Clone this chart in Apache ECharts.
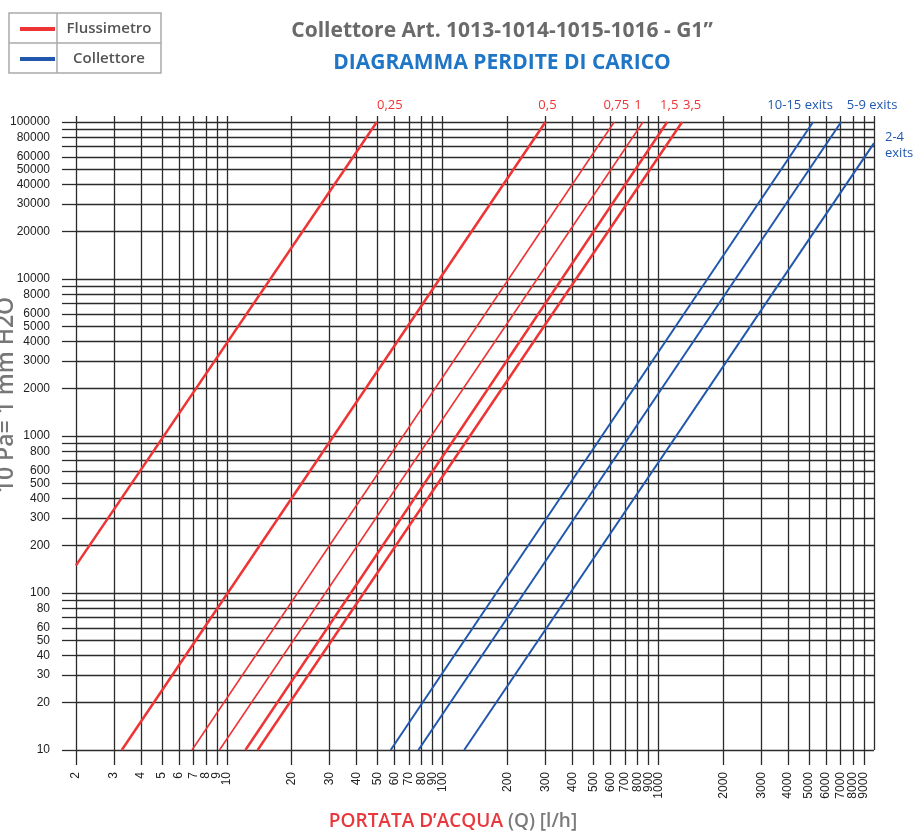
<!DOCTYPE html>
<html>
<head>
<meta charset="utf-8">
<script src="https://cdn.jsdelivr.net/npm/echarts@6/dist/echarts.min.js"></script>
<style>html,body{margin:0;padding:0;background:#fff}#c{width:913px;height:832px}</style>
</head>
<body>
<div id="c"></div>
<script>
// ---- Data ----
const xTickValues = [2,3,4,5,6,7,8,9,10,20,30,40,50,60,70,80,90,100,200,300,400,500,600,700,800,900,1000,2000,3000,4000,5000,6000,7000,8000,9000,10000];
const xLabelValues = [2,3,4,5,6,7,8,9,10,20,30,40,50,60,70,80,90,100,200,300,400,500,600,700,800,900,1000,2000,3000,4000,5000,6000,7000,8000,9000];
const yTickValues = [10,20,30,40,50,60,70,80,90,100,200,300,400,500,600,700,800,900,1000,2000,3000,4000,5000,6000,7000,8000,9000,10000,20000,30000,40000,50000,60000,70000,80000,90000,100000];
const yLabelValues = [10,20,30,40,50,60,80,100,200,300,400,500,600,800,1000,2000,3000,4000,5000,6000,8000,10000,20000,30000,40000,50000,60000,80000,100000];

// Flussimetro lines: [Q l/h, Δp (10 Pa)] start and end
const fluss025 = [[2, 150], [49.6, 100000]];
const fluss05  = [[3.26, 10], [300, 100000]];
const fluss075 = [[6.9, 10], [625, 100000]];
const fluss1   = [[9.25, 10], [850, 100000]];
const fluss15  = [[12.2, 10], [1100, 100000]];
const fluss35  = [[13.9, 10], [1290, 100000]];
const flussLabels = ['0,25', '0,5', '0,75', '1', '1,5', '3,5'];

// Collettore lines
const coll1015 = [[57.5, 10], [5220, 100000]];
const coll59   = [[77.3, 10], [7040, 100000]];
const coll24   = [[126, 10], [10000, 73400]];
const collLabels = ['10-15 exits', '5-9 exits', '2-4\nexits'];

// ---- Styles ----
const RED = '#ee3434';
const BLUE = '#2158ad';
const GRID = '#2b2b2b';
const FONT_UI = '"Open Sans", "Noto Sans", sans-serif';
const FONT_AX = '"Liberation Sans", Arial, sans-serif';
const X_MAX = 10000;

function mkSeries(name, data, label, color, width, labelOpt) {
  const last = data.length - 1;
  return {
    type: 'line', name: name, data: data,
    xAxisIndex: 0, yAxisIndex: 0,
    clip: false, animation: false, silent: true,
    symbol: 'circle', symbolSize: 0, showSymbol: true,
    lineStyle: { color: color, width: width },
    itemStyle: { color: color },
    label: Object.assign({
      show: true, color: color, fontSize: 13, fontFamily: FONT_UI,
      lineHeight: 16,
      formatter: p => p.dataIndex === last ? label : ''
    }, labelOpt)
  };
}

const series = [
  mkSeries('Flussimetro', fluss025, flussLabels[0], RED, 2.5, { position: 'top', offset: [13, -4] }),
  mkSeries('Flussimetro', fluss05,  flussLabels[1], RED, 2.5, { position: 'top', offset: [2, -4] }),
  mkSeries('Flussimetro', fluss075, flussLabels[2], RED, 1.6, { position: 'top', offset: [2, -4] }),
  mkSeries('Flussimetro', fluss1,   flussLabels[3], RED, 1.6, { position: 'top', offset: [-5, -4] }),
  mkSeries('Flussimetro', fluss15,  flussLabels[4], RED, 2.5, { position: 'top', offset: [2, -4] }),
  mkSeries('Flussimetro', fluss35,  flussLabels[5], RED, 2.5, { position: 'top', offset: [10, -4] }),
  mkSeries('Collettore', coll1015, collLabels[0], BLUE, 2, { position: 'top', offset: [-13, -4] }),
  mkSeries('Collettore', coll59,   collLabels[1], BLUE, 2, { position: 'top', offset: [31, -4] }),
  mkSeries('Collettore', coll24,   collLabels[2], BLUE, 2, { position: 'right', offset: [6, 2], align: 'left' })
];

const chart = echarts.init(document.getElementById('c'), null, { renderer: 'canvas' });
chart.setOption({
  animation: false,
  backgroundColor: '#ffffff',
  title: {
    text: 'Collettore Art. 1013-1014-1015-1016 - G1\u201D',
    subtext: 'DIAGRAMMA PERDITE DI CARICO',
    left: 497, textAlign: 'center', top: 14, itemGap: 8,
    textStyle: { fontFamily: FONT_UI, fontSize: 21, fontWeight: 'bold', color: '#6a6a6a', lineHeight: 24 },
    subtextStyle: { fontFamily: FONT_UI, fontSize: 21, fontWeight: 'bold', color: '#1f76c6', lineHeight: 24 }
  },
  legend: {
    orient: 'vertical', left: 15, top: 16,
    itemWidth: 35, itemHeight: 4, itemGap: 14, icon: 'rect',
    data: ['Flussimetro', 'Collettore'],
    formatter: n => '{t|' + n + '}',
    textStyle: {
      lineHeight: 16,
      rich: { t: { width: 98, align: 'center', fontSize: 15, fontWeight: 600, color: '#555', fontFamily: FONT_UI, lineHeight: 16 } }
    }
  },
  graphic: [
    { type: 'rect', shape: { x: 9, y: 13, width: 152, height: 60 }, style: { fill: 'none', stroke: '#aaaaaa', lineWidth: 1.5 }, silent: true },
    { type: 'line', shape: { x1: 9, y1: 43, x2: 161, y2: 43 }, style: { stroke: '#aaaaaa', lineWidth: 1.5 }, silent: true },
    { type: 'line', shape: { x1: 57, y1: 13, x2: 57, y2: 73 }, style: { stroke: '#aaaaaa', lineWidth: 1.5 }, silent: true }
  ],
  grid: { left: 76, right: 39, top: 122, bottom: 82, containLabel: false, outerBoundsMode: 'none' },
  xAxis: [{
    type: 'log', logBase: 10, min: 2, max: X_MAX, position: 'bottom',
    name: '{r|PORTATA D\u2019ACQUA}{g| (Q) [l/h]}',
    nameLocation: 'middle', nameGap: 62, nameMoveOverlap: false,
    nameTextStyle: {
      padding: [0, 44, 0, 0],
      rich: {
        r: { fontSize: 19, fontWeight: 600, color: '#e8383d', fontFamily: FONT_UI },
        g: { fontSize: 19, fontWeight: 600, color: '#7a7a7a', fontFamily: FONT_UI }
      }
    },
    axisLine: { show: false },
    axisTick: { show: true, customValues: xTickValues, length: 15, lineStyle: { color: GRID, width: 1.3 } },
    axisLabel: {
      show: true, customValues: xLabelValues.concat([X_MAX]), rotate: 90, margin: 22, hideOverlap: false,
      showMinLabel: true, showMaxLabel: false, lineHeight: 9,
      fontSize: 12, color: '#222', fontFamily: FONT_AX,
      formatter: v => (Math.round(v) >= X_MAX ? '' : String(Math.round(v)))
    },
    splitLine: { show: true, lineStyle: { color: GRID, width: 1.3 } },
    minorTick: { show: false }, minorSplitLine: { show: false }
  }, {
    type: 'log', logBase: 10, min: 2, max: X_MAX, position: 'top',
    axisLine: { show: false },
    axisTick: { show: true, customValues: xTickValues, length: 6, lineStyle: { color: GRID, width: 1.3 } },
    axisLabel: { show: false },
    splitLine: { show: false }
  }],
  yAxis: [{
    type: 'log', logBase: 10, min: 10, max: 100000,
    name: '10 Pa= 1 mm H2O',
    nameLocation: 'middle', nameGap: 58, nameRotate: 90, nameMoveOverlap: false,
    nameTextStyle: { fontSize: 23, fontWeight: 600, color: '#777', fontFamily: FONT_UI, padding: [0, 0, 0, 82] },
    axisLine: { show: false },
    axisTick: { show: true, customValues: yTickValues, length: 14, lineStyle: { color: GRID, width: 1.3 } },
    axisLabel: {
      show: true, customValues: yLabelValues, margin: 26, hideOverlap: false,
      showMinLabel: true, showMaxLabel: true,
      fontSize: 12, color: '#222', fontFamily: FONT_AX,
      formatter: v => String(Math.round(v))
    },
    splitLine: { show: true, lineStyle: { color: GRID, width: 1.3 } }
  }],
  series: series
});
</script>
</body>
</html>
